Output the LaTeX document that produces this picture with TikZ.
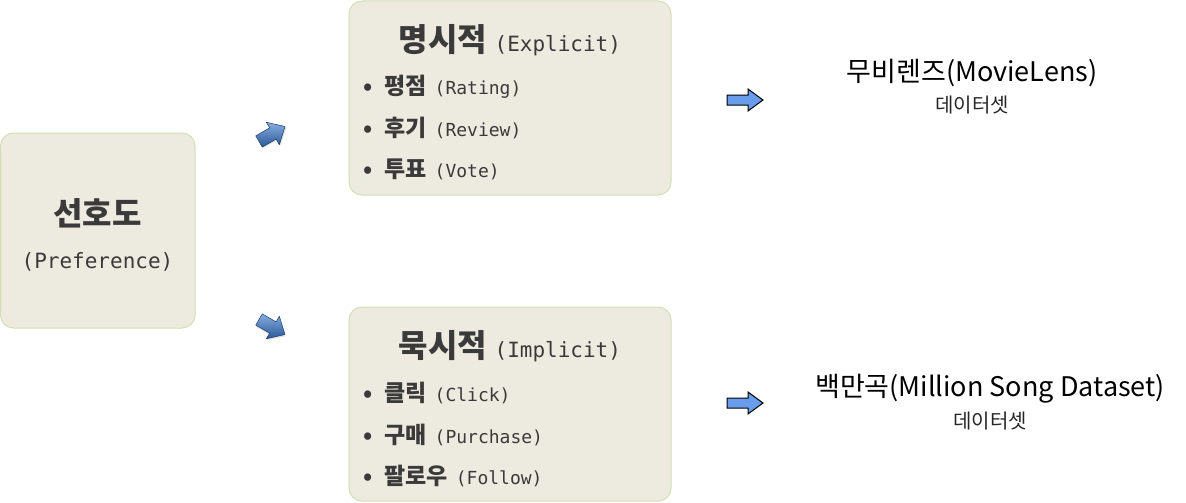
\documentclass[tikz,border=0pt]{standalone}
\usepackage{fontspec}
\setmainfont{Noto Sans CJK KR}
\newfontfamily\kr{Noto Sans CJK KR}
\newfontfamily\mono{DejaVu Sans Mono}
\definecolor{boxfill}{HTML}{EDEBE0}
\definecolor{boxline}{HTML}{D3DFB5}
\definecolor{txt}{HTML}{3A3A3A}
\definecolor{arrlight}{HTML}{86ADE0}
\definecolor{arrdark}{HTML}{2A5898}
\definecolor{arrflat}{HTML}{6A9CEC}
\tikzset{
  panel/.style={draw=boxline, line width=1pt, fill=boxfill, rounded corners=13pt},
  titletext/.style={text=txt, font=\kr\bfseries\fontsize{32}{34}\selectfont, inner sep=0pt},
  itemtext/.style={text=txt, font=\kr\bfseries\fontsize{23}{26}\selectfont, inner sep=0pt, anchor=west},
  bluearrow/.style={draw=arrdark!70!black, line width=0.5pt, top color=arrlight, bottom color=arrdark, line join=round},
  flatarrow/.style={draw=black, line width=1pt, fill=arrflat, line join=miter},
  dstitle/.style={font=\kr\fontsize{27}{30}\selectfont, inner sep=0pt, text=black},
  dssub/.style={font=\kr\fontsize{20}{22}\selectfont, inner sep=0pt, text=black!85},
}
\newcommand{\mt}[2]{{\mono\mdseries\fontsize{#1}{#1}\selectfont #2}}
\newcommand{\bluearr}[3]{%
  \begin{scope}[shift={(#1,#2)}, rotate=#3]
    \fill[black!25, opacity=0.5] (-14,-5.5) -- (2,-5.5) -- (2,-12) -- (16,1.5) -- (2,14) -- (2,8) -- (-14,8) -- cycle;
    \draw[bluearrow] (-15,-6.5) -- (1,-6.5) -- (1,-13) -- (15,0) -- (1,13) -- (1,6.5) -- (-15,6.5) -- cycle;
  \end{scope}}
\begin{document}
\begin{tikzpicture}[x=1pt,y=-1pt]
\useasboundingbox (0,0) rectangle (1186,503);
% panels
\draw[panel] (0.5,133) rectangle (195,328);
\draw[panel] (349,1) rectangle (671,195);
\draw[panel] (349,307) rectangle (671,501);
% left panel
\node[titletext] (pref) at (97.5,213) {선호도};
\node[text=txt, inner sep=0pt] (prefen) at (97.5,262) {\mt{21}{(Preference)}};
% explicit
\node[titletext] (expl) at (510,40) {명시적 \mt{21}{(Explicit)}};
\node[itemtext] (e1) at (363,87) {•\hspace{12pt}평점\hspace{8pt}\mt{18}{(Rating)}};
\node[itemtext] (e2) at (363,128) {•\hspace{12pt}후기\hspace{8pt}\mt{18}{(Review)}};
\node[itemtext] (e3) at (363,169) {•\hspace{12pt}투표\hspace{8pt}\mt{18}{(Vote)}};
% implicit
\node[titletext] (impl) at (510,346) {묵시적 \mt{21}{(Implicit)}};
\node[itemtext] (i1) at (363,393) {•\hspace{12pt}클릭\hspace{8pt}\mt{18}{(Click)}};
\node[itemtext] (i2) at (363,435) {•\hspace{12pt}구매\hspace{8pt}\mt{18}{(Purchase)}};
\node[itemtext] (i3) at (363,476) {•\hspace{12pt}팔로우\hspace{8pt}\mt{18}{(Follow)}};
% blue 3D arrows
\bluearr{272}{134}{30}
\bluearr{272}{327}{-30}
% flat arrows
\draw[flatarrow] (727,95) -- (748,95) -- (748,89) -- (763,100) -- (748,111) -- (748,105) -- (727,105) -- cycle;
\draw[flatarrow] (727,398) -- (748,398) -- (748,392) -- (763,403) -- (748,414) -- (748,408) -- (727,408) -- cycle;
% datasets
\node[dstitle] (ml) at (972,73) {무비렌즈(MovieLens)};
\node[dssub] (mlsub) at (972,105) {데이터셋};
\node[dstitle] (ms) at (990,389) {백만곡(Million Song Dataset)};
\node[dssub] (mssub) at (990,421) {데이터셋};
\end{tikzpicture}
\end{document}
